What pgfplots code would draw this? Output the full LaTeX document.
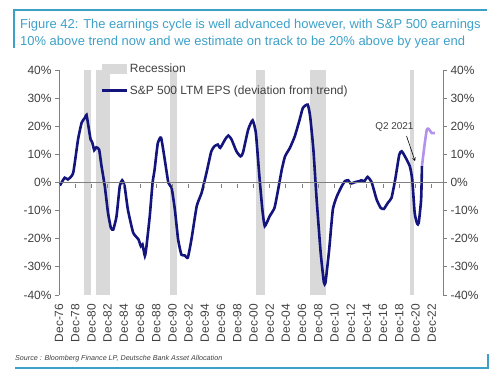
\documentclass[border=0pt]{standalone}
\usepackage{fontspec}
\setmainfont{Liberation Sans}
\usepackage{pgfplots}
\pgfplotsset{compat=1.18}
\definecolor{teal1}{RGB}{60,160,200}
\definecolor{navy}{RGB}{20,20,125}
\definecolor{lav}{RGB}{180,145,235}
\definecolor{recgray}{RGB}{217,217,217}
\definecolor{axgray}{RGB}{128,128,128}
\definecolor{txt}{RGB}{64,64,64}
\begin{document}
\begin{tikzpicture}[x=1bp,y=1bp]
\useasboundingbox (0,0) rectangle (500,376);
\draw[teal1, line width=1.2bp] (14,328) -- (14,366) -- (487,366);
\draw[teal1, line width=1.2bp] (15,8) -- (488,8) -- (488,22);
\node[anchor=base west, text=teal1, font=\fontsize{13}{15}\selectfont, inner sep=0] at (20,348) {Figure 42: The earnings cycle is well advanced however, with S\&P 500 earnings};
\node[anchor=base west, text=teal1, font=\fontsize{13}{15}\selectfont, inner sep=0] at (20,330.5) {10\% above trend now and we estimate on track to be 20\% above by year end};
\node[anchor=base west, text=txt, font=\fontsize{7.2}{8}\selectfont\itshape, inner sep=0] at (15,16) {Source : Bloomberg Finance LP, Deutsche Bank Asset Allocation};

\begin{axis}[at={(59bp,81bp)}, anchor=south west, scale only axis,
  width=384bp, height=225bp,
  xmin=0, xmax=47.4, ymin=-40, ymax=40,
  axis y line*=left, axis x line*=bottom,
  x axis line style={draw=none},
  xtick={0,2,...,46},
  xticklabels={Dec-76,Dec-78,Dec-80,Dec-82,Dec-84,Dec-86,Dec-88,Dec-90,Dec-92,Dec-94,Dec-96,Dec-98,Dec-00,Dec-02,Dec-04,Dec-06,Dec-08,Dec-10,Dec-12,Dec-14,Dec-16,Dec-18,Dec-20,Dec-22},
  xticklabel style={rotate=90, anchor=east, font=\fontsize{12}{14}\selectfont, text=txt, inner sep=4.5bp},
  x tick style={draw=none},
  ytick={-40,-30,...,40},
  yticklabels={-40\%,-30\%,-20\%,-10\%,0\%,10\%,20\%,30\%,40\%},
  yticklabel style={font=\fontsize{12}{14}\selectfont, text=txt},
  y axis line style={axgray, line width=0.8bp},
  y tick style={axgray, line width=0.8bp},
  tick align=outside, major tick length=4bp,
  legend style={at={(0.107,1.035)}, anchor=north west, draw=none, fill=none,
    font=\fontsize{12}{14}\selectfont, text=txt, cells={anchor=west},
    row sep=7bp, inner sep=0pt},
  legend cell align=left,
]
\addplot[fill=recgray, draw=none,
  legend image code/.code={\fill[recgray] (0bp,-5bp) rectangle (25bp,5bp);}]
  coordinates {(3.1,-40)(3.1,40)(4.0,40)(4.0,-40)} -- cycle;
\addlegendentry{Recession}
\addplot[fill=recgray, draw=none, forget plot] coordinates {(4.6,-40)(4.6,40)(6.3,40)(6.3,-40)} -- cycle;
\addplot[fill=recgray, draw=none, forget plot] coordinates {(13.7,-40)(13.7,40)(14.6,40)(14.6,-40)} -- cycle;
\addplot[fill=recgray, draw=none, forget plot] coordinates {(24.3,-40)(24.3,40)(25.4,40)(25.4,-40)} -- cycle;
\addplot[fill=recgray, draw=none, forget plot] coordinates {(31.0,-40)(31.0,40)(33.0,40)(33.0,-40)} -- cycle;
\addplot[fill=recgray, draw=none, forget plot] coordinates {(43.3,-40)(43.3,40)(43.8,40)(43.8,-40)} -- cycle;
\addplot[lav, line width=2.6bp, smooth, tension=0.3, forget plot] coordinates {
(44.8,5.8)(45.1,12.9)(45.4,18.8)(45.65,19)(46.0,17.6)(46.4,17.6)};
\addplot[navy, line width=2.6bp, smooth, tension=0.3,
  legend image code/.code={\draw[navy, line width=2.6bp] (0bp,0bp) -- (25bp,0bp);}] coordinates {
(0.1,-1.1)(0.7,1.7)(1.1,1.1)(1.75,3.4)(2.35,15.3)(2.8,21.3)(3.2,23)(3.4,24)
(3.7,18.8)(3.9,15.3)(4.1,14.3)(4.35,11.5)(4.6,12.5)(4.95,11.7)(5.25,5.8)
(5.65,-1.3)(6.05,-10.8)(6.4,-16.1)(6.7,-16.7)(7.1,-12)(7.5,-1.3)(7.8,0.8)
(8.1,-1.3)(8.5,-9.6)(9.15,-17.8)(9.8,-20.2)(10.1,-22.6)(10.3,-22)(10.6,-26.1)
(10.8,-22.6)(11.2,-12)(11.55,-0.1)(11.8,4.6)(12.2,14.1)(12.6,15.9)(13.05,8.2)
(13.5,-0.1)(13.9,-1.9)(14.3,-9.6)(14.7,-20.2)(15.1,-25.6)(15.5,-25.9)(15.9,-26.7)
(16.35,-20.2)(17.0,-8.4)(17.6,-3.7)(18.2,3.4)(18.8,11.1)(19.2,12.9)(19.6,13.5)
(19.9,12.3)(20.5,15.3)(20.9,16.7)(21.3,15.3)(21.9,11.1)(22.4,9.3)(22.7,10.5)
(23.35,18.8)(23.9,22.1)(24.3,17.6)(24.7,3.4)(25.1,-9.6)(25.4,-15.5)(26.0,-12)
(26.6,-9)(27.05,-2.5)(27.5,4.6)(27.9,9.3)(28.5,12.3)(29.1,16.4)(29.7,22.3)
(30.1,26.5)(30.7,27.7)(31.0,23.5)(31.4,11.7)(31.8,-6)(32.3,-25)(32.7,-35.6)
(32.9,-35.4)(33.35,-23.8)(33.8,-9.6)(34.3,-4.9)(34.9,-1.3)(35.3,0.5)(35.7,0.8)
(36.0,-0.4)(36.5,0.1)(37.1,0.5)(37.3,0.8)(37.7,0.5)(38.1,2.0)(38.6,0)
(39.2,-6)(39.7,-9)(40.1,-9.4)(40.6,-7.2)(41.05,-5.4)(41.5,1.1)(42.0,9.9)
(42.3,11.1)(42.7,9.3)(43.3,5.8)(43.6,1.1)(43.9,-10.8)(44.2,-14.6)(44.4,-14.4)
(44.7,-6)(44.8,5.8)};
\addlegendentry{S\&P 500 LTM EPS (deviation from trend)}
\node[font=\fontsize{10}{12}\selectfont, text=txt] at (axis cs:41.4,19.6) {Q2 2021};
\draw[-stealth, black, line width=0.6bp] (axis cs:42.9,16.5) -- (axis cs:43.95,7.6);
\end{axis}

\begin{axis}[at={(59bp,81bp)}, anchor=south west, scale only axis,
  width=384bp, height=225bp,
  xmin=0, xmax=47.4, ymin=-40, ymax=40,
  axis y line*=right, axis x line=middle,
  x axis line style={-, axgray, line width=0.8bp},
  every inner x axis line/.append style={-},
  xtick={0,2,...,46}, xticklabels={},
  x tick style={axgray, line width=0.8bp, yshift=-1.5bp},
  ytick={-40,-30,...,40},
  yticklabels={-40\%,-30\%,-20\%,-10\%,0\%,10\%,20\%,30\%,40\%},
  yticklabel style={font=\fontsize{12}{14}\selectfont, text=txt},
  y axis line style={axgray, line width=0.8bp},
  y tick style={axgray, line width=0.8bp},
  tick align=outside, major tick length=4bp,
]
\end{axis}
\end{tikzpicture}
\end{document}
